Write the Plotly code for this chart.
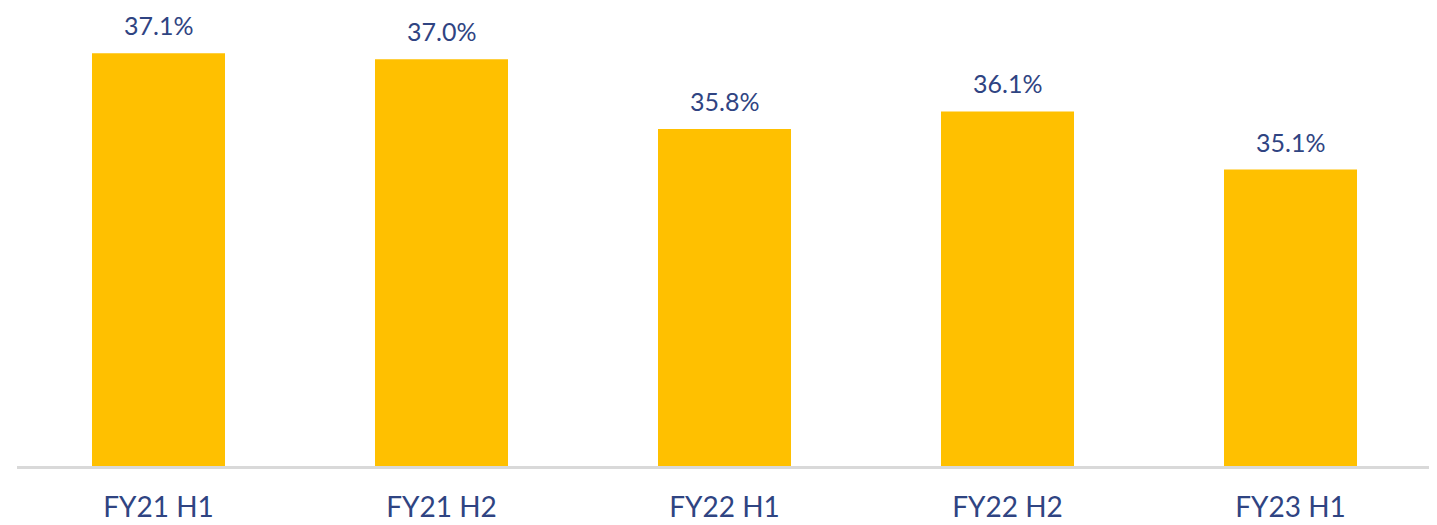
import plotly.graph_objects as go

categories = ["FY21 H1", "FY21 H2", "FY22 H1", "FY22 H2", "FY23 H1"]
values = [37.1, 37.0, 35.8, 36.1, 35.1]
labels = ["37.1%", "37.0%", "35.8%", "36.1%", "35.1%"]

bar_color = "#FFC000"
text_color = "#2F4482"

fig = go.Figure()
fig.add_trace(go.Bar(
    x=categories, y=values, base=0,
    marker=dict(color=bar_color, line=dict(width=0)),
    width=0.47, hoverinfo="skip",
))

for c, v, t in zip(categories, values, labels):
    fig.add_annotation(x=c, y=v, text=t, showarrow=False, yanchor="bottom",
                       yshift=11, font=dict(size=25, color=text_color, family="Lato"))

fig.update_layout(
    width=1437, height=525,
    margin=dict(l=9, r=13, t=0, b=67),
    paper_bgcolor="white", plot_bgcolor="white",
    showlegend=False,
    font=dict(family="Lato", color=text_color),
)
fig.update_xaxes(
    showline=True, linecolor="#D9D9D9", linewidth=3,
    tickfont=dict(size=28, color=text_color, family="Lato"),
    ticks="", ticklabelstandoff=14, showgrid=False,
)
fig.update_yaxes(range=[30, 37.88], visible=False, showgrid=False)

fig.write_html("out.html")
